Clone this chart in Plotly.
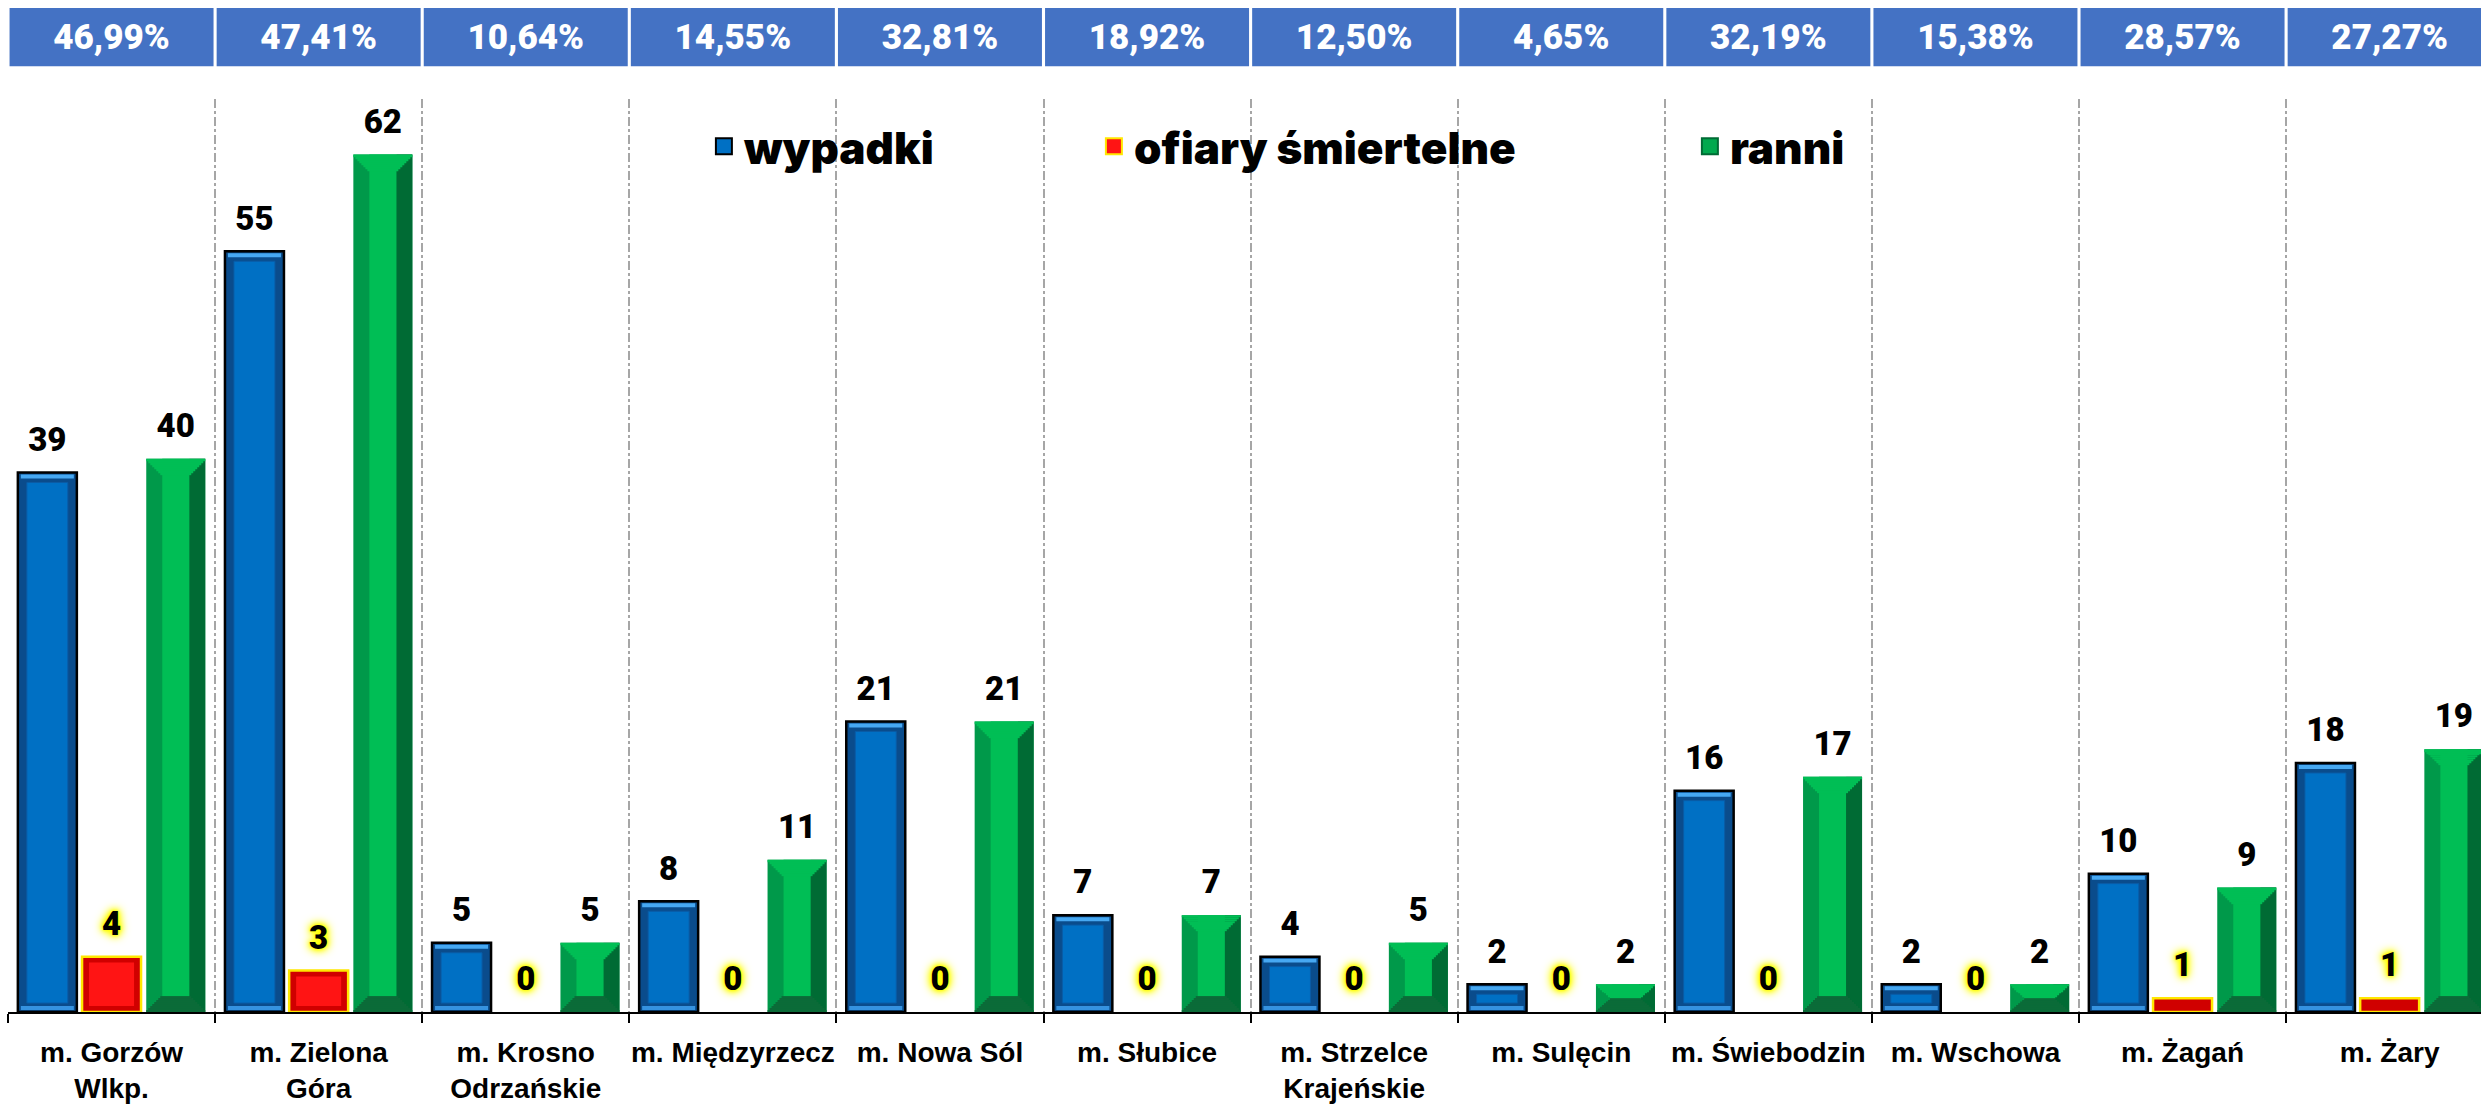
import numpy as np
import plotly.graph_objects as go

# dane
miasta = ["m. Gorzów<br>Wlkp.", "m. Zielona<br>Góra", "m. Krosno<br>Odrzańskie", "m. Międzyrzecz",
          "m. Nowa Sól", "m. Słubice", "m. Strzelce<br>Krajeńskie", "m. Sulęcin", "m. Świebodzin",
          "m. Wschowa", "m. Żagań", "m. Żary"]
wypadki = [39, 55, 5, 8, 21, 7, 4, 2, 16, 2, 10, 18]
ofiary = [4, 3, 0, 0, 0, 0, 0, 0, 0, 0, 1, 1]
ranni = [40, 62, 5, 11, 21, 7, 5, 2, 17, 2, 9, 19]
udzial = ["46,99%", "47,41%", "10,64%", "14,55%", "32,81%", "18,92%", "12,50%", "4,65%",
          "32,19%", "15,38%", "28,57%", "27,27%"]

n = len(miasta)
idx = np.arange(n)

# przeliczenie pikseli na jednostki osi (szerokosc kategorii ~207 px, 1 jednostka y ~13.95 px)
PX = 1 / 207.1
PY = 1 / 13.95
W = 59 * PX


def warstwa(x, base, h, w, kolor, linia=None, lw=0):
    return go.Bar(x=x, y=h, base=base, width=w,
                  marker=dict(color=kolor, line=dict(color=linia or kolor, width=lw)),
                  showlegend=False, hoverinfo="skip")


def dodatnie(vals):
    return [v if v > 0 else None for v in vals]


fig = go.Figure()

# --- wypadki (niebieskie) ---
xb = idx - 0.31
fig.add_trace(warstwa(xb, 0, dodatnie(wypadki), W, "#0A4C8C", "black", 2.5))
fig.add_trace(warstwa(xb, [v - 6 * PY if v else None for v in wypadki], [4 * PY if v else None for v in wypadki],
                      W - 6 * PX, "#46A8F2"))
fig.add_trace(warstwa(xb, 2 * PY, [4 * PY if v else None for v in wypadki], W - 6 * PX, "#3592E0"))
fig.add_trace(warstwa(xb, 9 * PY, [v - 19 * PY if v - 19 * PY > 0 else None for v in wypadki],
                      W - 18 * PX, "#0070C4", "#0A5BA5", 1))

# --- ofiary smiertelne (czerwone) ---
xr = idx
fig.add_trace(warstwa(xr, 0, dodatnie(ofiary), W, "#D00000", "#FFE800", 2.5))
fig.add_trace(warstwa(xr, 6 * PY, [v - 12 * PY if v - 12 * PY > 3 * PY else None for v in ofiary],
                      W - 14 * PX, "#FF1414"))

# --- ranni (zielone, skosne fazowanie) ---
xg = idx + 0.31
bev = [min(16 * PY, v / 2) for v in ranni]
fig.add_trace(warstwa(xg, 0, dodatnie(ranni), W, "#00994A"))
fig.add_trace(warstwa(xg + W / 2 - 8 * PX, 0, dodatnie(ranni), 16 * PX, "#006B34"))
fig.add_trace(warstwa(xg, bev, [v - b if v else None for v, b in zip(ranni, bev)], W - 32 * PX, "#00BE55"))
kroki = 8
for k in range(kroki):
    szer = W - 32 * PX * k / kroki
    # gorna sciana (jasna)
    fig.add_trace(warstwa(xg, [v - (k + 1) * b / kroki for v, b in zip(ranni, bev)],
                          [b / kroki if b else None for b in bev], szer, "#00BE55"))
    # dolna sciana (ciemna)
    fig.add_trace(warstwa(xg, [k * b / kroki for b in bev],
                          [b / kroki if b else None for b in bev], szer, "#0B6B38"))

# --- etykiety wartosci ---
glow = ("0px 0px 12px #FFFF00, 0px 0px 10px #FFFF00, 0px 0px 7px #FFFF00, "
        "0px 0px 4px #FFFF00, 0px 0px 2px #FFFF00")
for xs, vals, sh in [(xb, wypadki, None), (xr, ofiary, glow), (xg, ranni, None)]:
    f = dict(family="Roboto", size=33, color="black", weight=900)
    if sh:
        f["shadow"] = sh
    fig.add_trace(go.Scatter(x=xs, y=vals, text=[str(v) for v in vals], mode="markers+text",
                             textposition="top center", textfont=f,
                             marker=dict(size=20, opacity=0), showlegend=False, hoverinfo="skip",
                             cliponaxis=False))

# --- legenda (trzy osobne legendy dla dokladnego rozmieszczenia) ---
for nazwa, kolor, linia, leg in [("wypadki", "#0070C4", "black", "legend"),
                                 ("ofiary śmiertelne", "#FF1414", "#FFE800", "legend2"),
                                 ("ranni", "#00A94E", "#006B34", "legend3")]:
    fig.add_trace(go.Scatter(x=[None], y=[None], mode="markers", name=nazwa, legend=leg,
                             marker=dict(symbol="square", size=16, color=kolor, line=dict(color=linia, width=2))))

# --- pasek z udzialem procentowym ---
fig.add_trace(go.Bar(x=idx, y=[1] * n, width=0.985, marker=dict(color="#4472C4", line=dict(width=0)),
                     text=udzial, textposition="inside", insidetextanchor="middle", textangle=0,
                     textfont=dict(family="Roboto", size=35, color="white", weight=900),
                     xaxis="x2", yaxis="y2", showlegend=False, hoverinfo="skip"))

granice = np.arange(n + 1) - 0.5
zakres_x = [-0.5, -0.5 + 2473 * PX]

leg_font = dict(family="Inter", size=44, color="black", weight=900)
leg_common = dict(orientation="h", y=0.8618, xanchor="left", yanchor="middle",
                  font=leg_font, bgcolor="rgba(0,0,0,0)", itemsizing="trace")

fig.update_layout(
    width=2481, height=1104,
    margin=dict(l=8, r=0, t=8, b=83, pad=0),
    barmode="overlay",
    plot_bgcolor="white", paper_bgcolor="white",
    hovermode=False,
    xaxis=dict(range=zakres_x, tickmode="array", tickvals=idx, ticktext=miasta, ticks="",
               showgrid=False, zeroline=False, showline=True, linecolor="black", linewidth=2,
               tickfont=dict(family="Liberation Sans", size=28, color="black", weight="bold"),
               ticklabelstandoff=14,
               minor=dict(tickmode="array", tickvals=granice, ticks="outside", ticklen=9,
                          tickcolor="black", tickwidth=2, showgrid=True, gridcolor="#A6A6A6",
                          griddash="dashdot", gridwidth=1.5)),
    yaxis=dict(domain=[0, 0.9092], range=[0, 66.0], visible=False),
    xaxis2=dict(range=zakres_x, anchor="y2", visible=False),
    yaxis2=dict(domain=[0.9418, 1], range=[0, 1], visible=False, anchor="x2"),
    legend=dict(x=0.2814, **leg_common),
    legend2=dict(x=0.4391, **leg_common),
    legend3=dict(x=0.6801, **leg_common),
    shapes=[dict(type="rect", xref="paper", yref="paper", x0=0.245, x1=0.765, y0=0.8134, y1=0.92,
                 fillcolor="white", line=dict(width=0), layer="between")],
)

fig.write_html("out.html", config={"displayModeBar": False},
               post_script="document.body.style.margin='0';")
